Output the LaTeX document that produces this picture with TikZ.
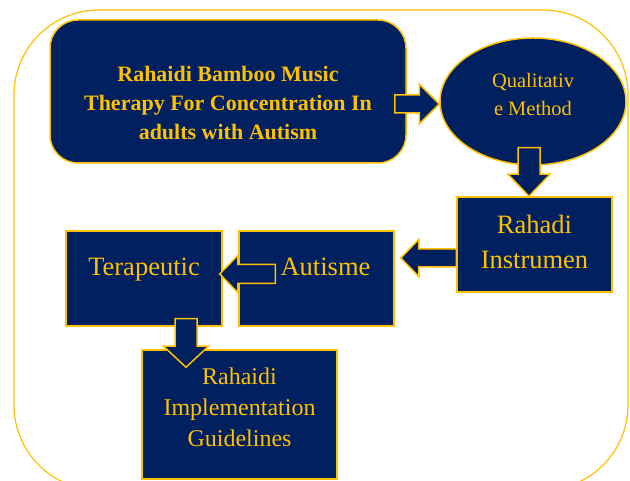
\documentclass[tikz,border=0pt]{standalone}
\usepackage{fontspec}
\setmainfont{Liberation Serif}
\usepackage{xcolor}
\usetikzlibrary{calc, shapes.geometric}
\definecolor{navy}{HTML}{002060}
\definecolor{gold}{HTML}{FFC000}
\tikzset{
  box/.style={draw=gold, fill=navy, line width=1.5pt, inner sep=0pt},
  boxtext/.style={text=gold, align=center},
  barrow/.style n args={3}{draw=gold, fill=navy, line width=1.5pt,
    to path={($(\tikztotarget)!#3!(\tikztostart)$) coordinate (bh)
      ($(\tikztostart)!#1!90:(\tikztotarget)$) -- ($(bh)!#1!90:(\tikztotarget)$)
      -- ($(bh)!#2!90:(\tikztotarget)$) -- (\tikztotarget)
      -- ($(bh)!#2!-90:(\tikztotarget)$) -- ($(bh)!#1!-90:(\tikztotarget)$)
      -- ($(\tikztostart)!#1!-90:(\tikztotarget)$) -- cycle}}
}
\begin{document}
\begin{tikzpicture}[x=1pt, y=1pt]
				\useasboundingbox (0,0) rectangle (630,481);
				\clip (0,0) rectangle (630,481);
				% outer frame
				\draw[draw=gold, line width=1.2pt, rounded corners=85pt] (14,-9) rectangle (628,471);
				% boxes
				\node[box, rounded corners=28pt, minimum width=356pt, minimum height=143pt,
					label={[boxtext, yshift=-11.7pt, font=\fontsize{22}{29}\selectfont\bfseries]center:Rahaidi Bamboo Music\\Therapy For Concentration In\\adults with Autism}] (thp) at (228,389.5) {};
				\node[box, ellipse, minimum width=186pt, minimum height=127pt,
					label={[boxtext, yshift=7pt, font=\fontsize{20.5}{28}\selectfont]center:Qualitativ\\e Method}] (meth) at (533,379.5) {};
				\node[box, minimum width=155pt, minimum height=95pt,
					label={[boxtext, yshift=2.7pt, font=\fontsize{26.5}{35.5}\selectfont]center:Rahadi\\Instrumen}] (rah) at (534.5,236.5) {};
				\node[box, minimum width=155pt, minimum height=95pt,
					label={[boxtext, xshift=9pt, yshift=12.1pt, font=\fontsize{26.5}{30}\selectfont]center:Autisme}] (aut) at (316.5,202.5) {};
				\node[box, minimum width=156pt, minimum height=95pt,
					label={[boxtext, yshift=8.9pt, font=\fontsize{26.5}{30}\selectfont]center:Terapeutic}] (ter) at (144,202.5) {};
				\node[box, minimum width=195pt, minimum height=129pt,
					label={[boxtext, yshift=7.5pt, font=\fontsize{24}{31}\selectfont]center:Rahaidi\\Implementation\\Guidelines}] (imp) at (239.5,66.5) {};
				% arrow ends
				\coordinate (a1) at ([shift={(-12,-12.5)}]thp.east);
				\coordinate (b1) at ([yshift=-2.5pt]meth.west);
				\coordinate (a2) at ([shift={(-4,18)}]meth.south);
				\coordinate (b2) at ([xshift=-5.5pt]rah.north);
				\coordinate (a3) at ([yshift=-13.5pt]rah.west);
				\coordinate (b3) at ([shift={(6,20.5)}]aut.east);
				\coordinate (a4) at ([shift={(37,4.5)}]aut.west);
				\coordinate (b4) at ([shift={(-3,4.5)}]ter.east);
				\coordinate (a5) at ([shift={(42,8)}]ter.south);
				\coordinate (b5) at ([shift={(-53.5,-18)}]imp.north);
				% block arrows
				\draw[barrow={9pt}{20pt}{20pt}] (a1) to (b1);
				\draw[barrow={11pt}{21pt}{22pt}] (a2) to (b2);
				\draw[barrow={9pt}{18.5pt}{18pt}] (a3) to (b3);
				\draw[barrow={9.5pt}{18.5pt}{18pt}] (a4) to (b4);
				\draw[barrow={11pt}{22.5pt}{21pt}] (a5) to (b5);
			\end{tikzpicture}
\end{document}
